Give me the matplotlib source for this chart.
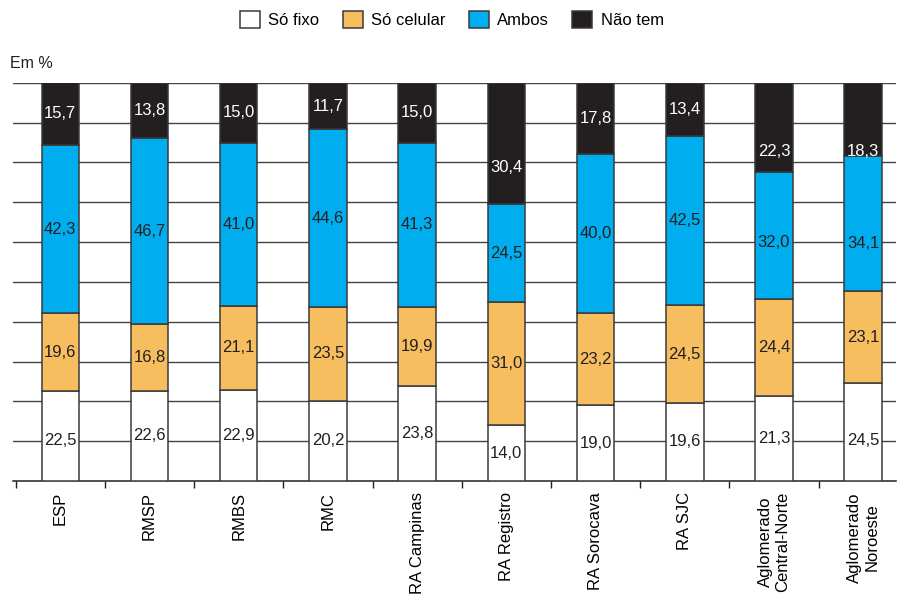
import matplotlib
matplotlib.use("Agg")
import matplotlib.pyplot as plt
import numpy as np

plt.rcParams['font.family'] = ['Liberation Sans', 'DejaVu Sans']

categories = ["ESP", "RMSP", "RMBS", "RMC", "RA Campinas", "RA Registro",
              "RA Sorocava", "RA SJC", "Aglomerado\nCentral-Norte", "Aglomerado\nNoroeste"]
so_fixo = [22.5, 22.6, 22.9, 20.2, 23.8, 14.0, 19.0, 19.6, 21.3, 24.5]
so_celular = [19.6, 16.8, 21.1, 23.5, 19.9, 31.0, 23.2, 24.5, 24.4, 23.1]
ambos = [42.3, 46.7, 41.0, 44.6, 41.3, 24.5, 40.0, 42.5, 32.0, 34.1]
nao_tem = [15.7, 13.8, 15.0, 11.7, 15.0, 30.4, 17.8, 13.4, 22.3, 18.3]

series = [
    ("Só fixo", so_fixo, "#FFFFFF", "#231F20"),
    ("Só celular", so_celular, "#F7BE60", "#231F20"),
    ("Ambos", ambos, "#00AEEF", "#231F20"),
    ("Não tem", nao_tem, "#231F20", "#FFFFFF"),
]

# a few labels sit a little below the middle of their segment
label_shift = {("Não tem", 5): -6.0, ("Não tem", 8): -6.0, ("Não tem", 9): -8.0,
               ("Ambos", 8): -1.8, ("Ambos", 9): -5.0,
               ("Só fixo", 0): -1.2, ("Só fixo", 9): -2.0}

fig = plt.figure(figsize=(8.98, 5.96), dpi=100)
ax = fig.add_axes([0.0145, 0.193, 0.9835, 0.668])

x = np.arange(len(categories))
width = 0.42
bottom = np.zeros(len(categories))
handles = []
for name, vals, color, tcolor in series:
    vals = np.array(vals)
    b = ax.bar(x, vals, width, bottom=bottom, color=color, edgecolor="#3a3a3a",
               linewidth=1.1, zorder=3, label=name)
    handles.append(b)
    for i, (xi, v, b0) in enumerate(zip(x, vals, bottom)):
        y = b0 + v / 2 + label_shift.get((name, i), 0.0)
        ax.text(xi, y, f"{v:.1f}".replace(".", ","), ha="center", va="center",
                fontsize=12, color=tcolor, zorder=4)
    bottom = bottom + vals

ax.set_ylim(0, 100)
ax.set_xlim(-0.53, 9.37)
ax.set_yticks([])
for y in np.arange(10, 101, 10):
    ax.axhline(y, color="#444444", linewidth=1.0, zorder=1)

for s in ["top", "right", "left"]:
    ax.spines[s].set_visible(False)
ax.spines["bottom"].set_color("#231F20")
ax.spines["bottom"].set_linewidth(1.1)

ax.set_xticks(x - 0.5, minor=False)
ax.set_xticklabels([])
ax.tick_params(axis="x", which="major", direction="out", length=5, width=1, color="#231F20")
ax.set_xticks(x, minor=True)
ax.set_xticklabels(categories, minor=True, rotation=90, fontsize=12, va="top",
                   ha="center", multialignment="center")
ax.tick_params(axis="x", which="minor", length=0, pad=8)

fig.text(0.011, 0.894, "Em %", fontsize=11.5, ha="left", va="center", color="#231F20")

fig.legend(handles=handles, loc="center", bbox_to_anchor=(0.503, 0.967), ncol=4,
           frameon=False, fontsize=12, handlelength=1.2, handleheight=1.2,
           handletextpad=0.5, columnspacing=1.4)

fig.savefig("out.png", dpi=100)
